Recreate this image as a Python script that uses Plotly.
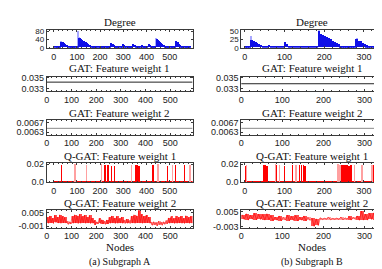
import plotly.graph_objects as go

# ---------------- data ----------------
N_A = 590          # nodes in subgraph A
N_B = 345          # nodes in subgraph B
BIN_DEG = 5        # degree values are read per 5-node bin
BIN_W2 = 10        # Q-GAT weight 2 read per 10-node bin (high / low)

x_ticks_a = [0, 100, 200, 300, 400, 500]
x_ticks_b = [0, 100, 200, 300]

# Degree, subgraph A (one value per 5-node bin)
deg_a = [2, 3, 2, 3, 2, 3,
         28, 26, 22, 18, 14, 10, 7, 5,
         4, 3, 3, 2, 3, 2,
         8,
         48, 45, 40, 36, 32, 28, 24, 20, 17, 14, 11, 8, 6,
         3, 2, 3, 4, 2, 3, 2, 3, 5, 2, 3, 2, 3, 4, 2,
         20, 16, 11, 7, 4,
         3, 2, 3, 2, 3,
         16, 12, 8, 5, 3,
         2, 3, 2, 3,
         15, 11, 7, 4,
         2, 3, 2,
         14, 9, 5,
         3, 2, 3,
         18, 13, 8, 4,
         3, 2, 3,
         40, 36, 31, 26, 21, 16, 12, 8, 5,
         3, 2, 3, 4, 2, 3, 2, 3,
         30, 24, 18, 13, 8, 5,
         3, 2, 3, 2, 3, 2, 2]
deg_a_light_nodes = [30, 104, 110, 247, 440, 526]
deg_a_light_vals = [32, 80, 52, 22, 44, 33]

# Degree, subgraph B
deg_b = [2, 3, 2,
         22, 20, 17, 14, 11, 8, 5,
         3, 2,
         8, 5, 3,
         2, 3, 2, 3, 2,
         15, 9, 4,
         2, 3, 2, 3, 2, 3, 2, 3, 2, 3, 2,
         5, 3, 4,
         50, 42, 38, 35, 32, 28, 25, 21, 17, 13, 9,
         3, 2, 3, 2, 3, 2, 3, 4,
         25, 21, 18, 14, 10, 6, 4,
         3, 2, 3, 2, 3, 2]
deg_b_light_nodes = [17, 187, 282]
deg_b_light_vals = [35, 52, 30]

# GAT feature weights (constant over nodes)
gat_w1_a = 0.0342
gat_w1_b = 0.0339
gat_w2_a = 0.00646
gat_w2_b = 0.00646

# Q-GAT feature weight 1: low baseline (per 50 nodes) + spikes
qw1_base_a = [0.0009, 0.0008, 0.0010, 0.0009, 0.0008, 0.0009, 0.0010, 0.0008, 0.0009, 0.0010, 0.0009, 0.0008]
qw1_base_b = [0.0009, 0.0010, 0.0008, 0.0009, 0.0010, 0.0009, 0.0008]
qw1_spk_a_nodes = [33, 219, 233, 247, 261, 354, 360, 366, 426, 490, 523, 561]
qw1_spk_a_vals = [0.019, 0.019, 0.019, 0.018, 0.018, 0.019, 0.019, 0.018, 0.019, 0.018, 0.019, 0.019]
qw1_lt_a_nodes = [90, 140, 204, 333, 447, 511, 585]
qw1_lt_a_vals = [0.020, 0.019, 0.020, 0.019, 0.020, 0.019, 0.019]
qw1_spk_b_nodes = [2, 47, 50, 53, 57, 80, 100, 121, 138, 143, 148, 152, 245, 250, 254, 258, 263, 268, 325, 329, 334]
qw1_spk_b_vals = [0.018, 0.019, 0.019, 0.019, 0.018, 0.019, 0.018, 0.019, 0.019, 0.019, 0.019, 0.018,
                  0.019, 0.019, 0.019, 0.019, 0.018, 0.019, 0.019, 0.019, 0.018]
qw1_lt_b_nodes = [5, 78, 88, 130, 235, 240, 277, 295, 320, 338]
qw1_lt_b_vals = [0.019, 0.020, 0.019, 0.019, 0.020, 0.019, 0.019, 0.019, 0.019, 0.018]

# Q-GAT feature weight 2: per 10-node bin high / low
qw2_hi_a = [0.0030, 0.0036, 0.0026, 0.0039, 0.0031, 0.0041, 0.0034, 0.0029,
            0.0012, 0.0010,
            0.0035, 0.0041, 0.0037, 0.0043, 0.0034, 0.0040, 0.0031, 0.0038, 0.0027,
            0.0015, 0.0010, 0.0025, 0.0019, 0.0012, 0.0018,
            0.0030, 0.0036, 0.0027, 0.0033, 0.0024, 0.0031,
            0.0018, 0.0022, 0.0015,
            0.0035, 0.0041, 0.0037, 0.0060, 0.0043, 0.0035, 0.0040, 0.0031,
            0.0008, 0.0010, 0.0006, 0.0012, 0.0008, 0.0010, 0.0015,
            0.0027, 0.0033, 0.0024, 0.0036, 0.0029, 0.0034, 0.0025, 0.0037, 0.0029, 0.0033]
qw2_lo_a = [0.0003, 0.0005, 0.0002, 0.0006, 0.0004, 0.0003, 0.0005, 0.0004,
            -0.0002, 0.0000,
            0.0003, 0.0004, 0.0002, 0.0003, 0.0005, 0.0003, 0.0004, 0.0002, 0.0003,
            -0.0003, 0.0000, 0.0002, 0.0000, -0.0002, 0.0000,
            0.0003, 0.0004, 0.0002, 0.0003, 0.0004, 0.0003,
            0.0002, 0.0003, 0.0002,
            0.0004, 0.0003, 0.0005, 0.0004, 0.0003, 0.0004, 0.0005, 0.0003,
            -0.0006, -0.0004, -0.0008, -0.0003, -0.0006, -0.0002, 0.0000,
            0.0003, 0.0004, 0.0002, 0.0003, 0.0004, 0.0003, 0.0002, 0.0004, 0.0003, 0.0003]
qw2_hi_b = [0.0035, 0.0040, 0.0032, 0.0042, 0.0038, 0.0036, 0.0040,
            0.0030, 0.0022, 0.0028, 0.0020, 0.0032, 0.0025, 0.0030, 0.0022, 0.0028, 0.0020,
            0.0015, 0.0012,
            0.0018, 0.0015, 0.0020, 0.0014, 0.0016, 0.0022, 0.0018, 0.0025, 0.0020, 0.0028,
            0.0055,
            0.0038, 0.0042, 0.0045, 0.0036, 0.0040]
qw2_lo_b = [0.0008, 0.0005, 0.0010, 0.0006, 0.0008, 0.0005, 0.0007,
            0.0002, 0.0004, 0.0000, 0.0005, 0.0002, 0.0003, 0.0000, 0.0004, 0.0001, 0.0003,
            -0.0030, -0.0025,
            0.0008, 0.0010, 0.0007, 0.0009, 0.0008, 0.0006, 0.0009, 0.0005, 0.0008, 0.0004,
            0.0005,
            0.0005, 0.0008, 0.0004, 0.0006, 0.0005]

# ---------------- layout helpers ----------------
W, H = 382, 269
COLS = [(36, 183), (232, 375)]
ROWS = [(19, 37), (67, 82), (112, 127), (156, 176), (205, 223)]
TITLE_Y = [10, 58, 104, 149, 198]
TITLES = ["Degree", "GAT: Feature weight 1", "GAT: Feature weight 2",
          "Q-GAT: Feature weight 1", "Q-GAT: Feature weight 2"]

BLUE = "#1010e8"
LBLUE = "#a8a8ff"
RED = "#ff0000"
MRED = "#ff5050"
LRED = "#ffa0a0"
AX = "#3a3a3a"
SANS = "Liberation Sans"
SERIF = "Liberation Serif"

fig = go.Figure()
layout = dict(width=W, height=H, margin=dict(l=0, r=0, t=0, b=0),
              paper_bgcolor="white", plot_bgcolor="white",
              showlegend=False, barmode="overlay", bargap=0)


def axname(k):
    return "" if k == 1 else str(k)


def add_bar(k, x, y, w, color, base=None):
    fig.add_trace(go.Bar(x=x, y=y, base=base, width=w, marker_color=color,
                         marker_line_width=0, xaxis="x" + axname(k), yaxis="y" + axname(k),
                         hoverinfo="skip"))


def add_line(k, x, y, color, width=1.0):
    fig.add_trace(go.Scatter(x=x, y=y, mode="lines", line=dict(color=color, width=width),
                             xaxis="x" + axname(k), yaxis="y" + axname(k), hoverinfo="skip"))


def set_axes(k, col, row, xr, xt, yr, yt, ytxt, ysize=9):
    c0, c1 = COLS[col]
    r0, r1 = ROWS[row]
    common = dict(showline=True, linecolor=AX, linewidth=0.8, mirror="allticks",
                  ticks="inside", ticklen=2, tickwidth=0.7, tickcolor=AX,
                  tickfont=dict(family=SANS, size=9, color="#222"),
                  showgrid=False, zeroline=False, fixedrange=True)
    layout["xaxis" + axname(k)] = dict(common, domain=[c0 / W, c1 / W], range=xr,
                                       tickvals=xt, ticktext=[str(v) for v in xt],
                                       anchor="y" + axname(k),
                                       ticklabelstandoff=1 if row == 0 else 0,
                                       minor=dict(ticks="inside", ticklen=1, tickwidth=0.6,
                                                  tickcolor=AX, dtick=20))
    layout["yaxis" + axname(k)] = dict(common, domain=[1 - r1 / H, 1 - r0 / H], range=yr,
                                       tickvals=yt, ticktext=ytxt, anchor="x" + axname(k),
                                       tickfont=dict(family=SANS, size=ysize, color="#222"))


def bin_centers(n, b):
    return [b * i + b / 2 for i in range(n)]


panels = [("A", N_A, x_ticks_a, 0), ("B", N_B, x_ticks_b, 1)]
for side, N, xt, col in panels:
    k0 = 1 + col * 5
    bar_r = [-30, 598] if side == "A" else [-9, 348]
    line_r = [0, N]
    # Degree
    deg = deg_a if side == "A" else deg_b
    ln = deg_a_light_nodes if side == "A" else deg_b_light_nodes
    lv = deg_a_light_vals if side == "A" else deg_b_light_vals
    add_bar(k0, ln, lv, 2.5 if side == "A" else 2.0, LBLUE)
    add_bar(k0, bin_centers(len(deg), BIN_DEG), deg, BIN_DEG, BLUE)
    if side == "A":
        set_axes(k0, col, 0, bar_r, xt, [0, 85], [0, 40, 80], ["0", "40", "80"], 8)
    else:
        set_axes(k0, col, 0, bar_r, xt, [0, 53], [0, 25, 50], ["0", "25", "50"], 8)
    # GAT w1
    g1 = gat_w1_a if side == "A" else gat_w1_b
    add_line(k0 + 1, [0, N], [g1, g1], "#222222", 1.0)
    set_axes(k0 + 1, col, 1, line_r, xt, [0.0325, 0.0352], [0.033, 0.035], ["0.033", "0.035"])
    # GAT w2
    g2 = gat_w2_a if side == "A" else gat_w2_b
    add_line(k0 + 2, [0, N], [g2, g2], "#8a8a8a", 1.0)
    set_axes(k0 + 2, col, 2, line_r, xt, [0.00619, 0.00680], [0.0063, 0.0067], ["0.0063", "0.0067"])
    # Q-GAT w1
    base = qw1_base_a if side == "A" else qw1_base_b
    add_bar(k0 + 3, bin_centers(len(base), 50), base, 50, RED)
    lnn = qw1_lt_a_nodes if side == "A" else qw1_lt_b_nodes
    lvv = qw1_lt_a_vals if side == "A" else qw1_lt_b_vals
    add_bar(k0 + 3, lnn, lvv, 2.0 if side == "A" else 1.3, LRED)
    sn = qw1_spk_a_nodes if side == "A" else qw1_spk_b_nodes
    sv = qw1_spk_a_vals if side == "A" else qw1_spk_b_vals
    add_bar(k0 + 3, sn, sv, 2.0 if side == "A" else 1.3, RED)
    set_axes(k0 + 3, col, 3, bar_r, xt, [0, 0.0215], [0, 0.02], ["0.0", "0.02"])
    # Q-GAT w2: band between the high and low read for each bin, plus a zigzag through them
    hi = qw2_hi_a if side == "A" else qw2_hi_b
    lo = qw2_lo_a if side == "A" else qw2_lo_b
    spans = [h - l for h, l in zip(hi, lo)]
    cols_ = [MRED if s >= 0.0018 else LRED for s in spans]
    fig.add_trace(go.Bar(x=bin_centers(len(hi), BIN_W2), y=spans, base=lo, width=BIN_W2,
                         marker=dict(color=cols_, line=dict(width=0)),
                         xaxis="x" + axname(k0 + 4), yaxis="y" + axname(k0 + 4), hoverinfo="skip"))
    zx, zy = [], []
    for i, (h, l) in enumerate(zip(hi, lo)):
        zx += [BIN_W2 * i + 2.5, BIN_W2 * i + 7.5]
        zy += [h, l]
    add_line(k0 + 4, zx, zy, RED, 0.6)
    if side == "A":
        set_axes(k0 + 4, col, 4, line_r, xt, [-0.0016, 0.0062], [-0.001, 0.005], ["-0.001", "0.005"])
    else:
        set_axes(k0 + 4, col, 4, line_r, xt, [-0.0036, 0.0060], [-0.003, 0.005], ["-0.003", "0.005"])

# titles and labels
ann = []
for col in range(2):
    c0, c1 = COLS[col]
    cx = (c0 + c1) / 2 / W
    for t, ty in zip(TITLES, TITLE_Y):
        ann.append(dict(x=cx, y=1 - ty / H, xref="paper", yref="paper", text=t, showarrow=False,
                        font=dict(family=SERIF, size=11, color="#111"), xanchor="center", yanchor="middle"))
    ann.append(dict(x=cx, y=1 - 243 / H, xref="paper", yref="paper", text="Nodes", showarrow=False,
                    font=dict(family=SERIF, size=11, color="#111"), xanchor="center", yanchor="middle"))
    ann.append(dict(x=cx, y=1 - 259 / H, xref="paper", yref="paper",
                    text="(a) Subgraph A" if col == 0 else "(b) Subgraph B", showarrow=False,
                    font=dict(family=SERIF, size=10, color="#111"), xanchor="center", yanchor="middle"))
layout["annotations"] = ann
fig.update_layout(**layout)
fig.write_html("out.html")
